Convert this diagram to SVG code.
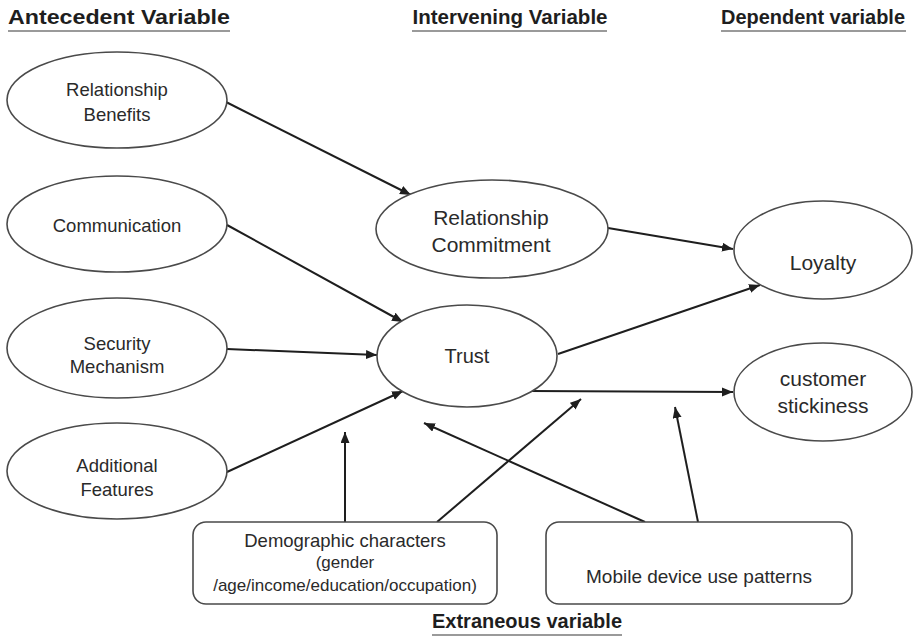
<svg xmlns="http://www.w3.org/2000/svg" width="913" height="637" viewBox="0 0 913 637">
  <defs>
    <marker id="arrow" markerUnits="userSpaceOnUse" markerWidth="12" markerHeight="10" refX="11" refY="4.5" orient="auto">
      <path d="M0,0 L11,4.5 L0,9 Z" fill="#1e1e1e"/>
    </marker>
    <style>
      .node ellipse, .node rect { fill: #ffffff; stroke: #4a4a4a; stroke-width: 1.6; }
      .lbl { font-family: "Liberation Sans", Arial, sans-serif; fill: #2a2a2a; text-anchor: middle; }
      .head { font-family: "Liberation Sans", Arial, sans-serif; font-weight: bold; fill: #1e1e1e; text-anchor: middle; font-size: 21px; }
      .rule { stroke: #9a9a9a; stroke-width: 2; }
      .edge { stroke: #1e1e1e; stroke-width: 2; fill: none; marker-end: url(#arrow); }
    </style>
  </defs>
  <rect width="913" height="637" fill="#ffffff"/>

  <!-- column headings -->
  <g id="headings">
    <text class="head" x="119" y="24" textLength="222" lengthAdjust="spacingAndGlyphs">Antecedent Variable</text>
    <line class="rule" x1="8" y1="31" x2="230" y2="31"/>
    <text class="head" x="510" y="24" textLength="195" lengthAdjust="spacingAndGlyphs">Intervening Variable</text>
    <line class="rule" x1="412" y1="31" x2="607" y2="31"/>
    <text class="head" x="813" y="24" textLength="184" lengthAdjust="spacingAndGlyphs">Dependent variable</text>
    <line class="rule" x1="721" y1="31" x2="906" y2="31"/>
    <text class="head" x="527" y="628" textLength="190" lengthAdjust="spacingAndGlyphs">Extraneous variable</text>
    <line class="rule" x1="432" y1="635" x2="622" y2="635"/>
  </g>

  <!-- connectors -->
  <g id="connectors">
    <line class="edge" x1="226" y1="102" x2="411" y2="195"/>
    <line class="edge" x1="227" y1="225" x2="403" y2="322"/>
    <line class="edge" x1="227" y1="349" x2="377" y2="355"/>
    <line class="edge" x1="227" y1="472" x2="403" y2="391"/>
    <line class="edge" x1="608" y1="228" x2="733" y2="249"/>
    <line class="edge" x1="558" y1="354" x2="760" y2="285"/>
    <line class="edge" x1="530" y1="391" x2="733" y2="392"/>
    <line class="edge" x1="345" y1="522" x2="345" y2="432"/>
    <line class="edge" x1="437" y1="522" x2="581" y2="399"/>
    <line class="edge" x1="645" y1="522" x2="424" y2="423"/>
    <line class="edge" x1="698" y1="522" x2="675" y2="407"/>
  </g>

  <!-- antecedent variables -->
  <g id="relationship-benefits" class="node">
    <ellipse cx="117" cy="100" rx="110" ry="48"/>
    <text class="lbl" x="117" y="96" font-size="18.5">Relationship</text>
    <text class="lbl" x="117" y="121" font-size="18.5">Benefits</text>
  </g>
  <g id="communication" class="node">
    <ellipse cx="117" cy="224" rx="110" ry="48"/>
    <text class="lbl" x="117" y="232" font-size="18.5">Communication</text>
  </g>
  <g id="security-mechanism" class="node">
    <ellipse cx="117" cy="348" rx="110" ry="50"/>
    <text class="lbl" x="117" y="350" font-size="18.5">Security</text>
    <text class="lbl" x="117" y="373" font-size="18.5">Mechanism</text>
  </g>
  <g id="additional-features" class="node">
    <ellipse cx="117" cy="471" rx="110" ry="48"/>
    <text class="lbl" x="117" y="472" font-size="18.5">Additional</text>
    <text class="lbl" x="117" y="496" font-size="18.5">Features</text>
  </g>

  <!-- intervening variables -->
  <g id="relationship-commitment" class="node">
    <ellipse cx="492" cy="229" rx="116" ry="49"/>
    <text class="lbl" x="491" y="225" font-size="21">Relationship</text>
    <text class="lbl" x="491" y="252" font-size="21">Commitment</text>
  </g>
  <g id="trust" class="node">
    <ellipse cx="467" cy="356" rx="90" ry="51"/>
    <text class="lbl" x="467" y="363" font-size="20">Trust</text>
  </g>

  <!-- dependent variables -->
  <g id="loyalty" class="node">
    <ellipse cx="823" cy="250" rx="89" ry="49"/>
    <text class="lbl" x="823" y="270" font-size="21">Loyalty</text>
  </g>
  <g id="customer-stickiness" class="node">
    <ellipse cx="823" cy="392" rx="89" ry="49"/>
    <text class="lbl" x="823" y="386" font-size="21">customer</text>
    <text class="lbl" x="823" y="413" font-size="21">stickiness</text>
  </g>

  <!-- extraneous variables -->
  <g id="demographic-characters" class="node">
    <rect x="193" y="522" width="304" height="82" rx="13"/>
    <text class="lbl" x="345" y="547" font-size="18.5">Demographic characters</text>
    <text class="lbl" x="345" y="568" font-size="17">(gender</text>
    <text class="lbl" x="345" y="591" font-size="17">/age/income/education/occupation)</text>
  </g>
  <g id="mobile-device-use" class="node">
    <rect x="546" y="522" width="306" height="82" rx="13"/>
    <text class="lbl" x="699" y="583" font-size="19">Mobile device use patterns</text>
  </g>
</svg>
